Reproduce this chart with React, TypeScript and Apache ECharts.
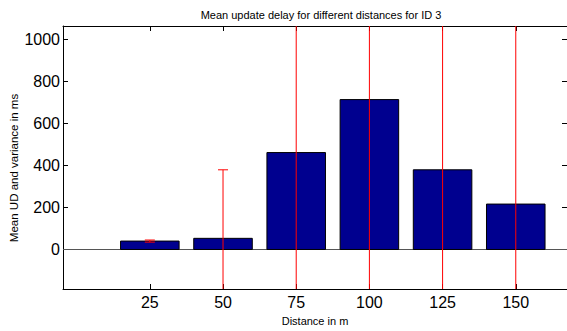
import React, { useEffect, useRef } from "react";
import * as echarts from "echarts";

const categories = [25, 50, 75, 100, 125, 150];
const meanDelay = [40, 53, 461, 713, 379, 216];
const variance = [5, 326, 720, 960, 760, 880];
const yTicks = [0, 200, 400, 600, 800, 1000];

const X_MIN = -4.66;
const X_MAX = 167.5;
const Y_MIN = -188;
const Y_MAX = 1063;
const FONT = "Liberation Sans, Arial, Helvetica, sans-serif";

export default function App() {
  const ref = useRef<HTMLDivElement>(null);
  useEffect(() => {
    if (!ref.current) return;
    const chart = echarts.init(ref.current, null, { renderer: "svg" });
    const barData = categories.map((c, i) => [c, meanDelay[i]]);
    const errData = categories.map((c, i) => [c, meanDelay[i], variance[i]]);
    const axisCommon = {
      axisLine: { show: true, onZero: false, lineStyle: { color: "#000", width: 1 } },
      splitLine: { show: false },
    };
    const plain = (v: number) => String(v);
    chart.setOption({
      animation: false,
      backgroundColor: "#fff",
      title: {
        text: "Mean update delay for different distances for ID 3",
        left: 316,
        textAlign: "center",
        top: 4,
        textStyle: { fontFamily: FONT, fontSize: 11, fontWeight: "normal", color: "#000" },
      },
      grid: { left: 63, top: 26, width: 505, height: 268 },
      xAxis: [
        {
          type: "value",
          position: "bottom",
          min: X_MIN,
          max: X_MAX,
          ...axisCommon,
          axisTick: { show: true, inside: true, length: 5, customValues: categories, lineStyle: { color: "#000" } },
          axisLabel: {
            customValues: categories,
            formatter: plain,
            margin: 5,
            fontFamily: FONT,
            fontSize: 16,
            color: "#000",
          },
          name: "Distance in m",
          nameLocation: "middle",
          nameGap: 26,
          nameTextStyle: { fontFamily: FONT, fontSize: 11, color: "#000" },
        },
        {
          type: "value",
          position: "top",
          min: X_MIN,
          max: X_MAX,
          ...axisCommon,
          axisTick: { show: true, inside: true, length: 5, customValues: categories, lineStyle: { color: "#000" } },
          axisLabel: { show: false },
        },
      ],
      yAxis: [
        {
          type: "value",
          position: "left",
          min: Y_MIN,
          max: Y_MAX,
          ...axisCommon,
          axisTick: { show: true, inside: true, length: 5, customValues: yTicks, lineStyle: { color: "#000" } },
          axisLabel: {
            customValues: yTicks,
            formatter: plain,
            margin: 3,
            fontFamily: FONT,
            fontSize: 16,
            color: "#000",
          },
        },
        {
          type: "value",
          position: "right",
          min: Y_MIN,
          max: Y_MAX,
          ...axisCommon,
          axisTick: { show: true, inside: true, length: 5, customValues: yTicks, lineStyle: { color: "#000" } },
          axisLabel: { show: false },
        },
      ],
      graphic: [
        {
          type: "text",
          x: 14,
          y: 168,
          rotation: Math.PI / 2,
          style: {
            text: "Mean UD and variance in ms",
            fontFamily: FONT,
            fontSize: 11.5,
            fill: "#000",
            align: "center",
            verticalAlign: "middle",
          },
        },
      ],
      series: [
        {
          type: "custom",
          name: "mean",
          xAxisIndex: 0,
          yAxisIndex: 0,
          z: 2,
          data: barData,
          encode: { x: 0, y: 1 },
          renderItem: (params: any, api: any) => {
            const x = api.value(0);
            const v = api.value(1);
            const half = 10;
            const p1 = api.coord([x - half, v]);
            const p2 = api.coord([x + half, 0]);
            return {
              type: "rect",
              shape: { x: p1[0], y: p1[1], width: p2[0] - p1[0], height: p2[1] - p1[1] },
              style: { fill: "#00008f", stroke: "#000", lineWidth: 1 },
            };
          },
          markLine: {
            silent: true,
            symbol: "none",
            label: { show: false },
            lineStyle: { color: "#555", width: 1, type: "solid" },
            data: [{ yAxis: 0 }],
            z: 1,
          },
        },
        {
          type: "custom",
          name: "variance",
          xAxisIndex: 0,
          yAxisIndex: 0,
          z: 5,
          data: errData,
          encode: { x: 0, y: 1 },
          renderItem: (params: any, api: any) => {
            const x = api.value(0);
            const v = api.value(1);
            const e = api.value(2);
            const cs = params.coordSys;
            const top = api.coord([x, v + e]);
            const bot = api.coord([x, v - e]);
            const yTop = Math.max(top[1], cs.y);
            const yBot = Math.min(bot[1], cs.y + cs.height);
            const capHalf = 5;
            const children: any[] = [
              {
                type: "line",
                shape: { x1: top[0], y1: yTop, x2: top[0], y2: yBot },
                style: { stroke: "#ff0000", lineWidth: 1 },
              },
            ];
            if (top[1] >= cs.y) {
              children.push({
                type: "line",
                shape: { x1: top[0] - capHalf, y1: top[1], x2: top[0] + capHalf, y2: top[1] },
                style: { stroke: "#ff0000", lineWidth: 1 },
              });
            }
            if (bot[1] <= cs.y + cs.height) {
              children.push({
                type: "line",
                shape: { x1: bot[0] - capHalf, y1: bot[1], x2: bot[0] + capHalf, y2: bot[1] },
                style: { stroke: "#ff0000", lineWidth: 1 },
              });
            }
            return { type: "group", children };
          },
        },
      ],
    });
    return () => chart.dispose();
  }, []);
  return (
    <div
      ref={ref}
      style={{ position: "fixed", left: 0, top: 0, width: 567, height: 331, background: "#fff" }}
    />
  );
}
